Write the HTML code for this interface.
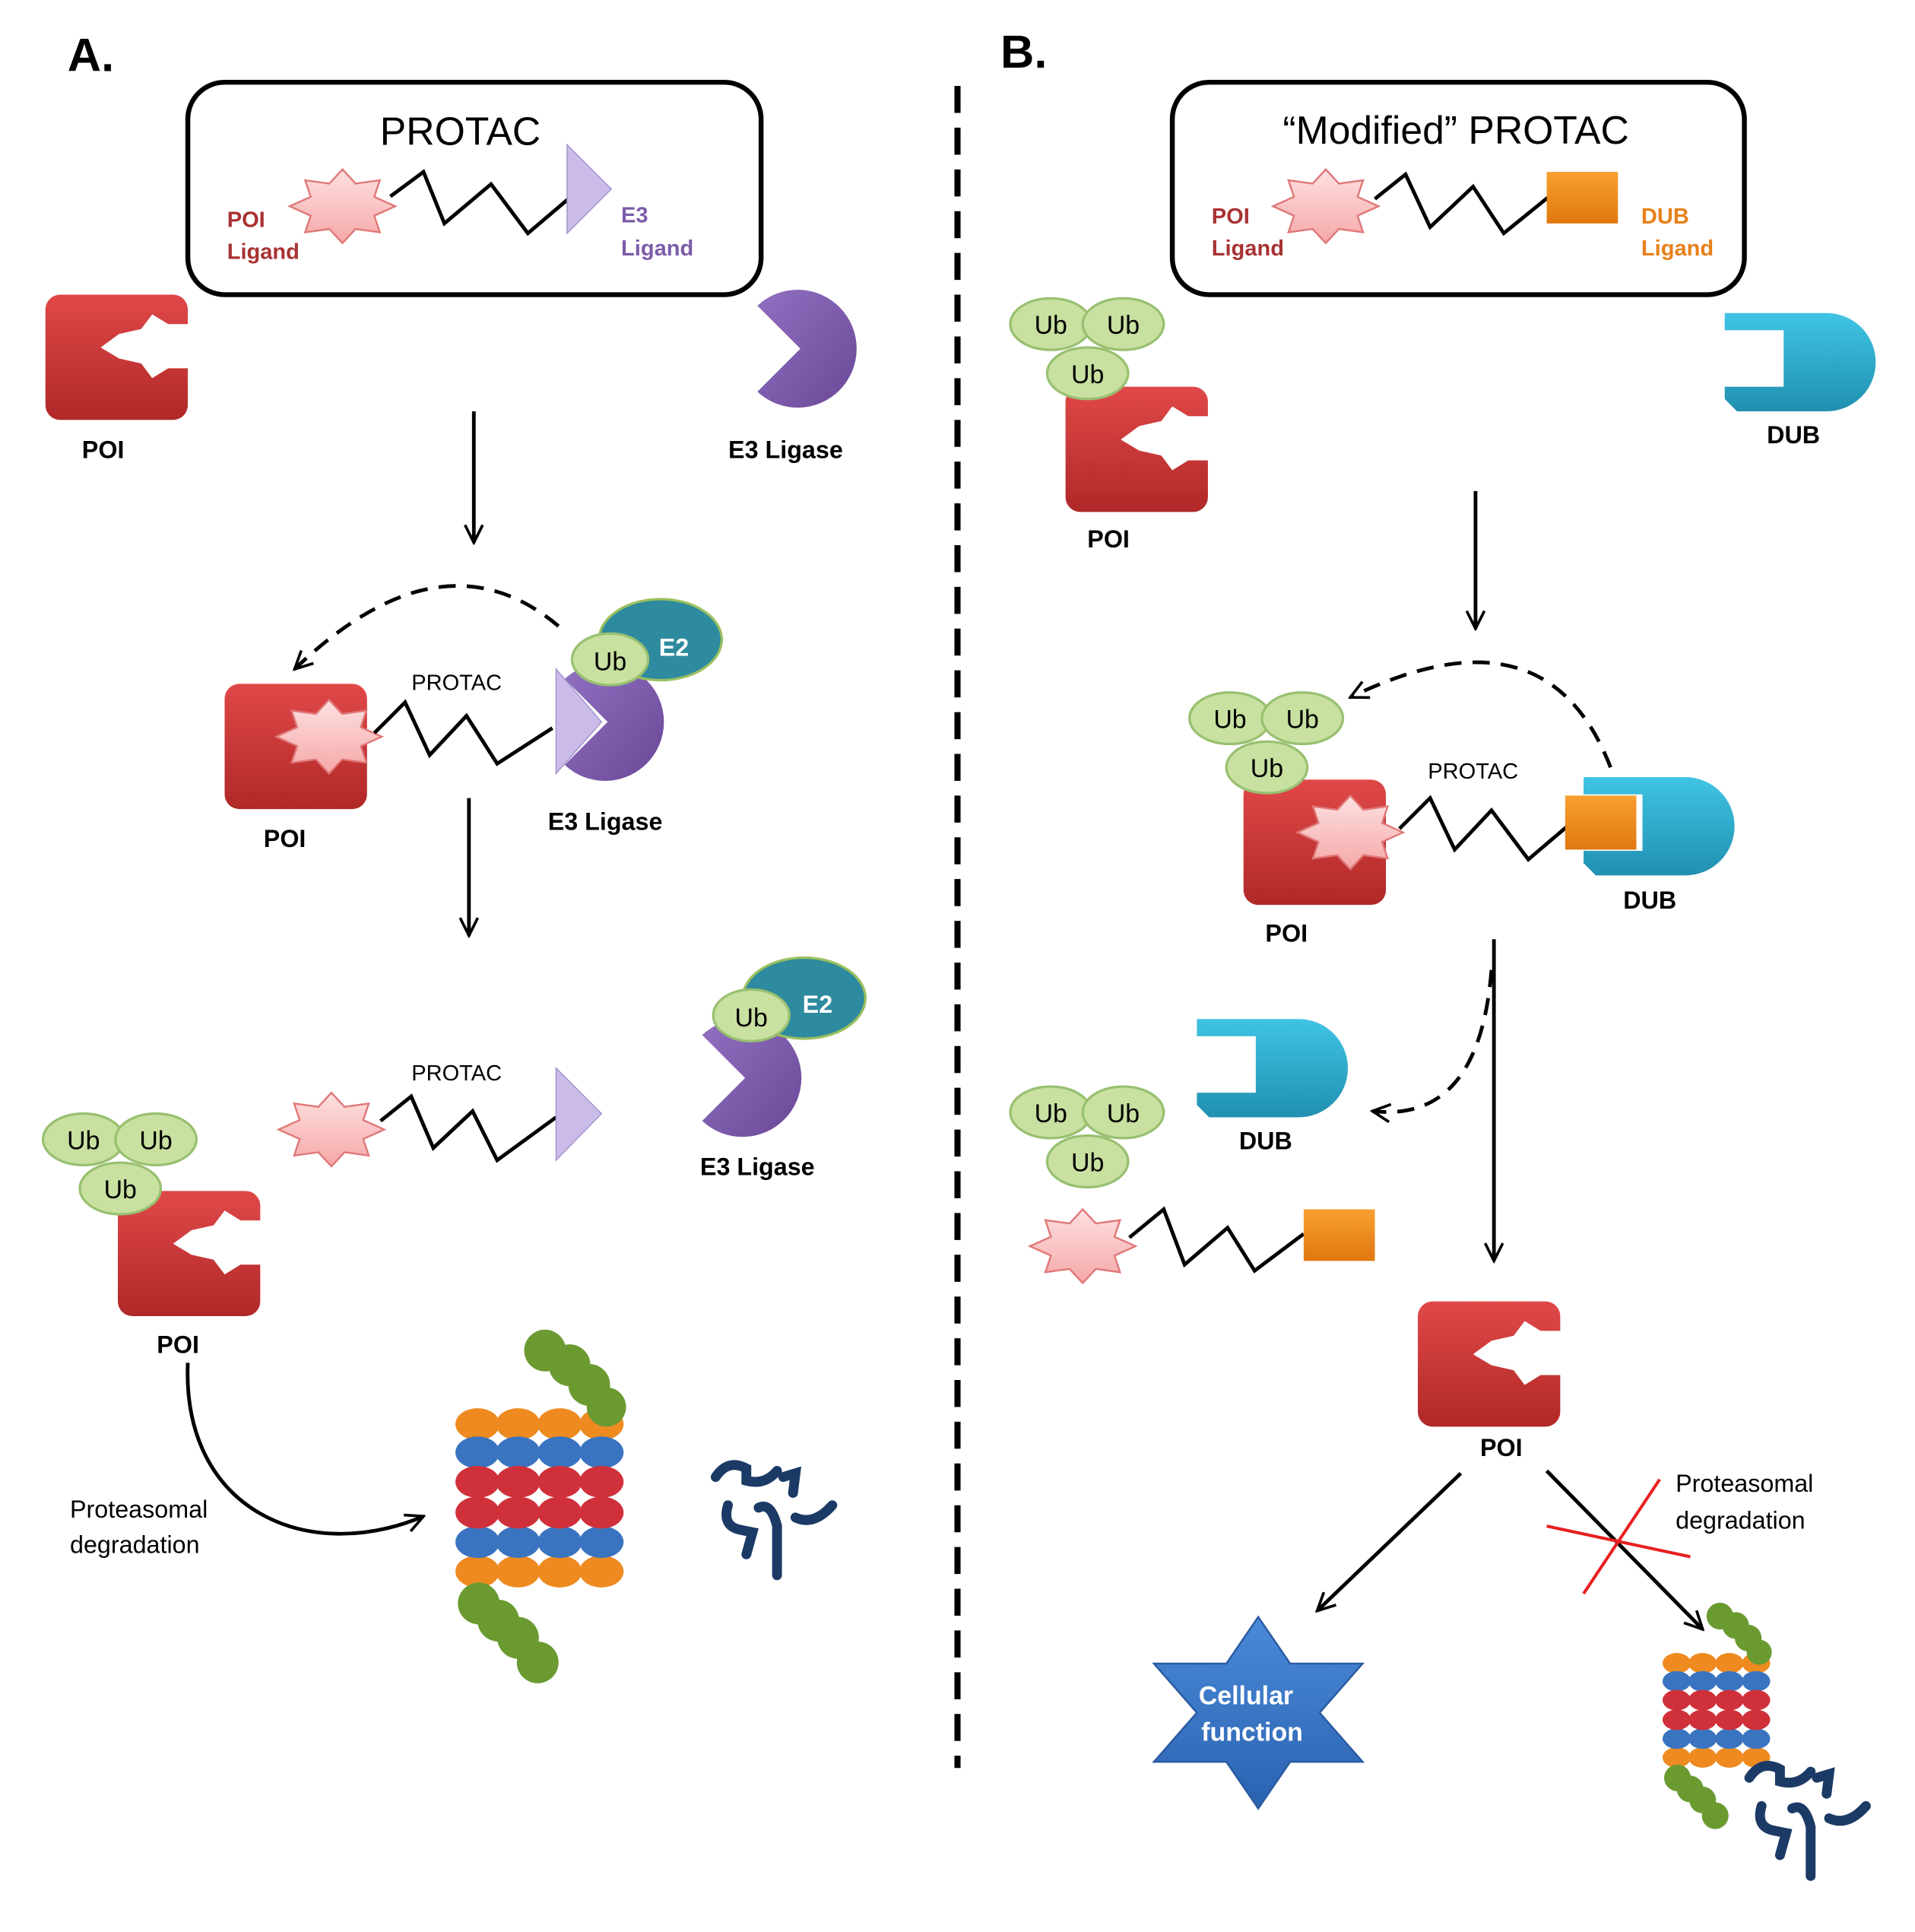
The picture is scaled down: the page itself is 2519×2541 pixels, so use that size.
<!DOCTYPE html>
<html><head><meta charset="utf-8"><style>html,body{margin:0;padding:0;background:#fff}svg{display:block}text{font-family:"Liberation Sans",sans-serif}</style></head>
<body>
<svg width="2519" height="2541" viewBox="0 0 1560 1573.6" preserveAspectRatio="none" xmlns="http://www.w3.org/2000/svg">
<defs>
<linearGradient id="red" x1="0" y1="0" x2="0" y2="1"><stop offset="0" stop-color="#e04848"/><stop offset="1" stop-color="#b02828"/></linearGradient>
<linearGradient id="pur" x1="0" y1="0" x2="1" y2="1"><stop offset="0" stop-color="#9070c0"/><stop offset="1" stop-color="#6a4898"/></linearGradient>
<linearGradient id="cy" x1="0" y1="0" x2="0" y2="1"><stop offset="0" stop-color="#40c4e4"/><stop offset="1" stop-color="#2090b0"/></linearGradient>
<linearGradient id="or" x1="0" y1="0" x2="0" y2="1"><stop offset="0" stop-color="#f8a030"/><stop offset="1" stop-color="#e07810"/></linearGradient>
<linearGradient id="bl" x1="0" y1="0" x2="0" y2="1"><stop offset="0" stop-color="#4a8ad8"/><stop offset="1" stop-color="#2a62b0"/></linearGradient>
<linearGradient id="pk" x1="0" y1="0" x2="0" y2="1"><stop offset="0" stop-color="#fde0e0"/><stop offset="1" stop-color="#f6a8a8"/></linearGradient>
<marker id="ah" viewBox="0 0 20 20" refX="18" refY="10" markerWidth="18" markerHeight="18" markerUnits="userSpaceOnUse" orient="auto"><path d="M2,2 L18,10 L2,18" fill="none" stroke="#000" stroke-width="2.5"/></marker>
<rect id="poib" width="116" height="102" rx="12" fill="url(#red)"/>
<g id="poi"><rect width="116" height="102" rx="12" fill="url(#red)"/><polygon fill="#fff" points="118,24 100,24 87,16 78,28 60,32 45,43 60,52 78,56 87,68 100,60 118,60"/></g>
<polygon id="star" fill="url(#pk)" stroke="#e07878" stroke-width="1.5" points="43,0 25.9,7.7 30.4,21.2 10.7,18.5 0,30 -10.7,18.5 -30.4,21.2 -25.9,7.7 -43,0 -25.9,-7.7 -30.4,-21.2 -10.7,-18.5 0,-30 10.7,-18.5 30.4,-21.2 25.9,-7.7"/>
<g id="ub"><ellipse cx="0" cy="0" rx="33" ry="21" fill="#c8e0a0" stroke="#98c070" stroke-width="2"/><ellipse cx="59" cy="0" rx="33" ry="21" fill="#c8e0a0" stroke="#98c070" stroke-width="2"/><ellipse cx="30" cy="40" rx="33" ry="21" fill="#c8e0a0" stroke="#98c070" stroke-width="2"/><text x="0" y="8" font-size="21" text-anchor="middle">Ub</text><text x="59" y="8" font-size="21" text-anchor="middle">Ub</text><text x="30" y="48" font-size="21" text-anchor="middle">Ub</text></g>
<g id="dub"><path d="M0,0 H83 A40 40 0 0 1 83,80 H10 L0,70 Z" fill="url(#cy)"/><rect x="-12" y="14" width="60" height="46" fill="#fff"/></g>
<g id="pac"><path d="M-8,0 L-43,-35 A48 48 0 1 1 -43,35 Z" fill="url(#pur)"/></g>
<g id="prot">
<g fill="#ee8a20"><ellipse cx="17" cy="12" rx="18" ry="13"/><ellipse cx="50" cy="12" rx="18" ry="13"/><ellipse cx="84" cy="12" rx="18" ry="13"/><ellipse cx="118" cy="12" rx="18" ry="13"/>
<ellipse cx="17" cy="132" rx="18" ry="13"/><ellipse cx="50" cy="132" rx="18" ry="13"/><ellipse cx="84" cy="132" rx="18" ry="13"/><ellipse cx="118" cy="132" rx="18" ry="13"/></g>
<g fill="#3a74c0"><ellipse cx="17" cy="35" rx="18" ry="13"/><ellipse cx="50" cy="35" rx="18" ry="13"/><ellipse cx="84" cy="35" rx="18" ry="13"/><ellipse cx="118" cy="35" rx="18" ry="13"/>
<ellipse cx="17" cy="108" rx="18" ry="13"/><ellipse cx="50" cy="108" rx="18" ry="13"/><ellipse cx="84" cy="108" rx="18" ry="13"/><ellipse cx="118" cy="108" rx="18" ry="13"/></g>
<g fill="#d0303a"><ellipse cx="17" cy="59" rx="18" ry="13"/><ellipse cx="50" cy="59" rx="18" ry="13"/><ellipse cx="84" cy="59" rx="18" ry="13"/><ellipse cx="118" cy="59" rx="18" ry="13"/>
<ellipse cx="17" cy="84" rx="18" ry="13"/><ellipse cx="50" cy="84" rx="18" ry="13"/><ellipse cx="84" cy="84" rx="18" ry="13"/><ellipse cx="118" cy="84" rx="18" ry="13"/></g>
<g fill="#6a9a30"><circle cx="72" cy="-48" r="17"/><circle cx="92" cy="-36" r="17"/><circle cx="108" cy="-20" r="17"/><circle cx="122" cy="-2" r="16"/>
<circle cx="18" cy="158" r="17"/><circle cx="34" cy="172" r="17"/><circle cx="50" cy="186" r="17"/><circle cx="66" cy="206" r="17"/></g>
</g>
<g id="sq" fill="none" stroke="#1c3a66" stroke-width="8" stroke-linecap="round">
<path d="M5,15 Q15,0 30,8 L30,18 Q45,22 55,10"/><path d="M60,15 L70,12 L68,28"/><path d="M15,38 Q10,55 25,58 L35,60 L30,78"/><path d="M40,40 Q50,35 55,55 L55,95"/><path d="M70,48 Q85,55 100,38"/>
</g>
</defs>

<!-- Panel A -->
<text x="55" y="58" font-size="38" font-weight="bold">A.</text>
<rect x="153" y="67" width="467" height="173" rx="30" fill="none" stroke="#000" stroke-width="4"/>
<text x="375" y="118" font-size="32" text-anchor="middle">PROTAC</text>
<use href="#star" x="279" y="168"/>
<polyline points="318,160 345,140 362,182 400,150 430,190 463,162" fill="none" stroke="#000" stroke-width="3"/>
<polygon points="462,118 462,190 498,154" fill="#cbbbe9" stroke="#a898d0"/>
<text x="185" y="185" font-size="18" font-weight="bold" fill="#a83232">POI</text>
<text x="185" y="211" font-size="18" font-weight="bold" fill="#a83232">Ligand</text>
<text x="506" y="181" font-size="18" font-weight="bold" fill="#7b5ca8">E3</text>
<text x="506" y="208" font-size="18" font-weight="bold" fill="#7b5ca8">Ligand</text>
<use href="#poi" x="37" y="240"/>
<text x="84" y="373" font-size="20" font-weight="bold" text-anchor="middle">POI</text>
<use href="#pac" x="660" y="284"/>
<text x="640" y="373" font-size="20" font-weight="bold" text-anchor="middle">E3 Ligase</text>
<line x1="386" y1="335" x2="386" y2="442" stroke="#000" stroke-width="3" marker-end="url(#ah)"/>
<path d="M455,510 Q360,430 240,545" fill="none" stroke="#000" stroke-width="3" stroke-dasharray="14 9" marker-end="url(#ah)"/>
<use href="#poib" x="183" y="557"/>
<use href="#star" x="268" y="600"/>
<polyline points="305,597 330,572 350,615 380,583 405,622 450,593" fill="none" stroke="#000" stroke-width="3"/>
<text x="372" y="562" font-size="18" text-anchor="middle">PROTAC</text>
<use href="#pac" x="503" y="588"/>
<polygon points="453,545 453,630 490,588" fill="#cbbbe9" stroke="#a898d0"/>
<ellipse cx="538" cy="521" rx="50" ry="33" fill="#2e8a9e" stroke="#9bc060" stroke-width="2"/>
<ellipse cx="497" cy="537" rx="31" ry="21" fill="#c8e0a0" stroke="#98c070" stroke-width="2"/>
<text x="497" y="546" font-size="21" text-anchor="middle">Ub</text>
<text x="549" y="534" font-size="20" font-weight="bold" fill="#fff" text-anchor="middle">E2</text>
<text x="232" y="690" font-size="20" font-weight="bold" text-anchor="middle">POI</text>
<text x="493" y="676" font-size="20" font-weight="bold" text-anchor="middle">E3 Ligase</text>
<line x1="382" y1="650" x2="382" y2="762" stroke="#000" stroke-width="3" marker-end="url(#ah)"/>
<use href="#poi" x="96" y="970"/>
<use href="#ub" x="68" y="928"/>
<text x="145" y="1102" font-size="20" font-weight="bold" text-anchor="middle">POI</text>
<use href="#star" x="270" y="920"/>
<polyline points="310,913 335,893 353,935 385,905 405,945 453,910" fill="none" stroke="#000" stroke-width="3"/>
<polygon points="453,870 453,945 490,907" fill="#cbbbe9" stroke="#a898d0"/>
<text x="372" y="880" font-size="18" text-anchor="middle">PROTAC</text>
<use href="#pac" x="615" y="878"/>
<ellipse cx="655" cy="813" rx="50" ry="33" fill="#2e8a9e" stroke="#9bc060" stroke-width="2"/>
<ellipse cx="612" cy="827" rx="31" ry="21" fill="#c8e0a0" stroke="#98c070" stroke-width="2"/>
<text x="612" y="836" font-size="21" text-anchor="middle">Ub</text>
<text x="666" y="825" font-size="20" font-weight="bold" fill="#fff" text-anchor="middle">E2</text>
<text x="617" y="957" font-size="20" font-weight="bold" text-anchor="middle">E3 Ligase</text>
<path d="M153,1110 C148,1230 250,1275 345,1235" fill="none" stroke="#000" stroke-width="3" marker-end="url(#ah)"/>
<text x="57" y="1236" font-size="20">Proteasomal</text>
<text x="57" y="1265" font-size="20">degradation</text>
<use href="#prot" x="372" y="1148"/>
<use href="#sq" x="578" y="1188"/>

<!-- Divider -->
<line x1="780" y1="70" x2="780" y2="1440" stroke="#000" stroke-width="5" stroke-dasharray="22 12"/>

<!-- Panel B -->
<text x="815" y="55" font-size="38" font-weight="bold">B.</text>
<rect x="955" y="67" width="466" height="173" rx="30" fill="none" stroke="#000" stroke-width="4"/>
<text x="1186" y="117" font-size="32" text-anchor="middle">“Modified” PROTAC</text>
<use href="#star" x="1080" y="168"/>
<polyline points="1120,162 1145,142 1165,185 1200,152 1225,190 1262,160" fill="none" stroke="#000" stroke-width="3"/>
<rect x="1260" y="140" width="58" height="42" fill="url(#or)"/>
<text x="987" y="182" font-size="18" font-weight="bold" fill="#a83232">POI</text>
<text x="987" y="208" font-size="18" font-weight="bold" fill="#a83232">Ligand</text>
<text x="1337" y="182" font-size="18" font-weight="bold" fill="#e8801a">DUB</text>
<text x="1337" y="208" font-size="18" font-weight="bold" fill="#e8801a">Ligand</text>
<use href="#poi" x="868" y="315"/>
<use href="#ub" x="856" y="264"/>
<text x="903" y="446" font-size="20" font-weight="bold" text-anchor="middle">POI</text>
<use href="#dub" x="1405" y="255"/>
<text x="1461" y="361" font-size="20" font-weight="bold" text-anchor="middle">DUB</text>
<line x1="1202" y1="400" x2="1202" y2="512" stroke="#000" stroke-width="3" marker-end="url(#ah)"/>
<use href="#dub" x="1290" y="633"/>
<use href="#poib" x="1013" y="635"/>
<use href="#ub" x="1002" y="585"/>
<use href="#star" x="1100" y="678"/>
<polyline points="1140,675 1165,650 1185,692 1215,660 1245,700 1278,672" fill="none" stroke="#000" stroke-width="3"/>
<rect x="1275" y="648" width="58" height="44" fill="url(#or)"/>
<text x="1200" y="634" font-size="18" text-anchor="middle">PROTAC</text>
<text x="1048" y="767" font-size="20" font-weight="bold" text-anchor="middle">POI</text>
<text x="1344" y="740" font-size="20" font-weight="bold" text-anchor="middle">DUB</text>
<path d="M1312,625 Q1260,490 1100,568" fill="none" stroke="#000" stroke-width="3" stroke-dasharray="14 9" marker-end="url(#ah)"/>
<line x1="1217" y1="765" x2="1217" y2="1027" stroke="#000" stroke-width="3" marker-end="url(#ah)"/>
<path d="M1215,790 Q1205,915 1118,905" fill="none" stroke="#000" stroke-width="3" stroke-dasharray="14 9" marker-end="url(#ah)"/>
<use href="#dub" x="975" y="830"/>
<text x="1031" y="936" font-size="20" font-weight="bold" text-anchor="middle">DUB</text>
<use href="#ub" x="856" y="906"/>
<use href="#star" x="882" y="1015"/>
<polyline points="920,1008 948,985 965,1030 1000,1000 1022,1035 1062,1005" fill="none" stroke="#000" stroke-width="3"/>
<rect x="1062" y="985" width="58" height="42" fill="url(#or)"/>
<use href="#poi" x="1155" y="1060"/>
<text x="1223" y="1186" font-size="20" font-weight="bold" text-anchor="middle">POI</text>
<line x1="1190" y1="1200" x2="1073" y2="1312" stroke="#000" stroke-width="3" marker-end="url(#ah)"/>
<line x1="1260" y1="1198" x2="1387" y2="1327" stroke="#000" stroke-width="3" marker-end="url(#ah)"/>
<line x1="1260" y1="1243" x2="1377" y2="1268" stroke="#e82020" stroke-width="2.5"/>
<line x1="1290" y1="1298" x2="1352" y2="1205" stroke="#e82020" stroke-width="2.5"/>
<text x="1365" y="1215" font-size="20">Proteasomal</text>
<text x="1365" y="1245" font-size="20">degradation</text>
<polygon transform="translate(1025,1395)" fill="url(#bl)" stroke="#2a5aa0" stroke-width="1.5" points="0,-78 26,-40 85,-40 50,0 85,40 26,40 0,78 -26,40 -85,40 -50,0 -85,-40 -26,-40"/>
<text x="1015" y="1388" font-size="21" font-weight="bold" fill="#fff" text-anchor="middle">Cellular</text>
<text x="1020" y="1418" font-size="21" font-weight="bold" fill="#fff" text-anchor="middle">function</text>
<g transform="translate(1355,1347) scale(0.64)"><use href="#prot"/></g>
<g transform="translate(1420,1433) scale(1.0)"><use href="#sq"/></g>
</svg>
</body></html>
